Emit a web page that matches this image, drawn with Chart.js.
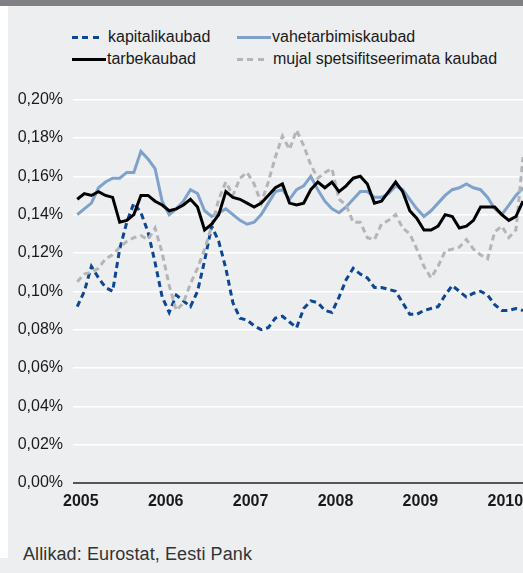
<!DOCTYPE html>
<html>
<head>
<meta charset="utf-8">
<script src="https://cdn.jsdelivr.net/npm/chart.js@4.4.0/dist/chart.umd.min.js"></script>
<style>
  body { margin: 0; width: 523px; height: 573px; background: #edeef0; position: relative; overflow: hidden;
         font-family: "Liberation Sans", Arial, sans-serif; color: #1a1a1a; }
  .topbar { position: absolute; left: 0; top: 0; width: 523px; height: 6px; background: #807f84; }
  .leftstrip { position: absolute; left: 0; top: 6px; width: 8px; height: 552px; background: #fff; }
  .item { position: absolute; display: flex; align-items: center; height: 20px; font-size: 16px; white-space: nowrap; }
  #chart { position: absolute; left: 0; top: 80px; }
  .source { position: absolute; left: 23px; top: 544px; font-size: 18px; letter-spacing: 0.1px; color: #333; }
</style>
</head>
<body>
<div class="topbar"></div>
<div class="leftstrip"></div>
<div id="legend"></div>
<canvas id="chart" width="523" height="450"></canvas>
<div class="source">Allikad: Eurostat, Eesti Pank</div>
<script>
// monthly data, Jan 2005 ... Apr 2010
const yearLabels = ['2005', '2006', '2007', '2008', '2009', '2010'];

const kapitalikaubad = [
  0.092, 0.100, 0.113, 0.107, 0.102, 0.100, 0.122, 0.136, 0.146, 0.141, 0.131, 0.115,
  0.097, 0.089, 0.098, 0.095, 0.092, 0.100, 0.116, 0.134, 0.126, 0.112, 0.094, 0.086,
  0.085, 0.082, 0.080, 0.081, 0.086, 0.087, 0.084, 0.081, 0.091, 0.095, 0.094, 0.090,
  0.089, 0.097, 0.106, 0.112, 0.109, 0.107, 0.102, 0.102, 0.101, 0.100, 0.094, 0.088,
  0.088, 0.090, 0.091, 0.092, 0.098, 0.103, 0.100, 0.097, 0.099, 0.100, 0.098, 0.093,
  0.090, 0.090, 0.091, 0.090
];
const vahetarbimiskaubad = [
  0.140, 0.143, 0.146, 0.154, 0.157, 0.159, 0.159, 0.162, 0.162, 0.173, 0.169, 0.164,
  0.147, 0.140, 0.143, 0.147, 0.153, 0.151, 0.142, 0.139, 0.141, 0.143, 0.140, 0.137,
  0.135, 0.136, 0.140, 0.146, 0.152, 0.153, 0.148, 0.153, 0.155, 0.160, 0.153, 0.147,
  0.143, 0.141, 0.144, 0.148, 0.152, 0.152, 0.149, 0.149, 0.151, 0.155, 0.153, 0.148,
  0.143, 0.139, 0.142, 0.146, 0.150, 0.153, 0.154, 0.156, 0.154, 0.153, 0.149, 0.143,
  0.140, 0.145, 0.150, 0.154
];
const tarbekaubad = [
  0.148, 0.151, 0.150, 0.152, 0.150, 0.149, 0.136, 0.137, 0.140, 0.150, 0.150, 0.147,
  0.145, 0.142, 0.143, 0.145, 0.148, 0.144, 0.132, 0.135, 0.140, 0.152, 0.149, 0.148,
  0.146, 0.144, 0.146, 0.150, 0.154, 0.156, 0.146, 0.145, 0.146, 0.153, 0.157, 0.154,
  0.157, 0.152, 0.155, 0.159, 0.160, 0.156, 0.146, 0.147, 0.152, 0.157, 0.152, 0.142,
  0.138, 0.132, 0.132, 0.134, 0.140, 0.139, 0.133, 0.134, 0.137, 0.144, 0.144, 0.144,
  0.140, 0.137, 0.139, 0.147
];
const mujalKaubad = [
  0.105, 0.109, 0.110, 0.112, 0.117, 0.119, 0.123, 0.126, 0.128, 0.129, 0.127, 0.133,
  0.120, 0.103, 0.090, 0.094, 0.104, 0.112, 0.122, 0.134, 0.148, 0.157, 0.150, 0.159,
  0.162, 0.156, 0.146, 0.157, 0.170, 0.181, 0.174, 0.184, 0.176, 0.166, 0.159, 0.162,
  0.164, 0.148, 0.145, 0.136, 0.136, 0.128, 0.127, 0.135, 0.137, 0.140, 0.133, 0.130,
  0.122, 0.113, 0.107, 0.113, 0.121, 0.122, 0.123, 0.127, 0.122, 0.119, 0.117, 0.131,
  0.134, 0.128, 0.132, 0.170
];

const font = '"Liberation Sans", Arial, sans-serif';
const toPoints = arr => arr.map((v, i) => ({ x: i, y: v }));

const series = [
  { label: 'kapitalikaubad', data: kapitalikaubad, color: '#0d4691', width: 3, dash: [6, 4], order: 2 },
  { label: 'vahetarbimiskaubad', data: vahetarbimiskaubad, color: '#7ea2cb', width: 3, dash: [], order: 3 },
  { label: 'tarbekaubad', data: tarbekaubad, color: '#000000', width: 3, dash: [], order: 0 },
  { label: 'mujal spetsifitseerimata kaubad', data: mujalKaubad, color: '#b5b5b7', width: 3, dash: [6, 4], order: 1 }
];

const chart = new Chart(document.getElementById('chart'), {
  type: 'line',
  data: {
    datasets: series.map(s => ({
      label: s.label,
      data: toPoints(s.data),
      borderColor: s.color,
      borderWidth: s.width,
      borderDash: s.dash,
      pointRadius: 0,
      tension: 0,
      order: s.order
    }))
  },
  options: {
    responsive: false,
    animation: false,
    devicePixelRatio: 1,
    layout: { padding: { top: 19, left: 0, right: 0, bottom: 0 } },
    plugins: { legend: { display: false }, tooltip: { enabled: false } },
    scales: {
      x: {
        type: 'linear',
        min: -0.6,
        max: 63,
        grid: { display: false, drawTicks: false },
        border: { display: false },
        afterBuildTicks: s => { s.ticks = yearLabels.map((y, k) => ({ value: k * 12 + 0.5 })); },
        afterFit: s => { s.height = 47; s.paddingLeft = 0; s.paddingRight = 0; },
        ticks: {
          autoSkip: false,
          maxRotation: 0,
          padding: 9,
          color: '#1a1a1a',
          font: { family: font, size: 16, weight: 'bold' },
          callback: (v, i) => yearLabels[i]
        }
      },
      y: {
        min: 0,
        max: 0.2,
        afterFit: s => { s.width = 73; },
        border: { display: false },
        grid: {
          drawTicks: false,
          color: c => c.tick.value === 0 ? '#555555' : '#ffffff',
          lineWidth: c => c.tick.value === 0 ? 2 : 1.5
        },
        ticks: {
          stepSize: 0.02,
          padding: 10,
          color: '#1a1a1a',
          font: { family: font, size: 16 },
          callback: v => v.toFixed(2).replace('.', ',') + '%'
        }
      }
    }
  }
});

// html legend, two columns
const legend = document.getElementById('legend');
const cols = [72, 237];
const rows = [37, 59];
series.forEach((s, i) => {
  const item = document.createElement('div');
  item.className = 'item';
  item.style.left = cols[i % 2] + 'px';
  item.style.top = (rows[Math.floor(i / 2)] - 10) + 'px';
  const sample = document.createElement('span');
  sample.style.display = 'inline-block';
  sample.style.height = s.width + 'px';
  if (s.dash.length) {
    sample.style.width = '28px';
    sample.style.marginRight = '8px';
    sample.style.background = `repeating-linear-gradient(to right, ${s.color} 0 6px, transparent 6px 10.5px)`;
  } else {
    sample.style.width = '34px';
    sample.style.marginRight = '1px';
    sample.style.background = s.color;
  }
  item.appendChild(sample);
  item.appendChild(document.createTextNode(s.label));
  legend.appendChild(item);
});
</script>
</body>
</html>
